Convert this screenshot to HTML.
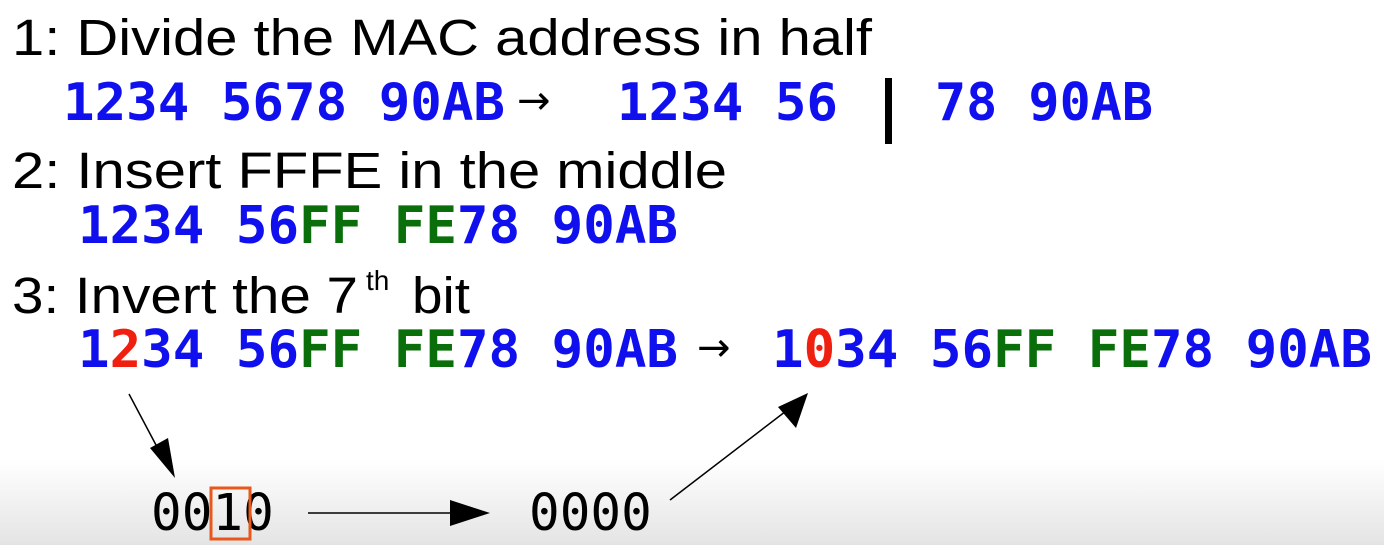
<!DOCTYPE html>
<html><head><style>
html,body{margin:0;padding:0;background:#fff;}
svg{display:block}
.h{font-family:"Liberation Sans",sans-serif;font-size:51px;fill:#000}
.m{font-family:"DejaVu Sans Mono",monospace;font-weight:bold;font-size:52px;fill:#1010ee}
.g{fill:#0a6e0a}
.r{fill:#f02010}
.a{font-family:"DejaVu Sans",sans-serif;font-size:40px;fill:#000}
.b{font-family:"DejaVu Sans Mono",monospace;font-size:51px;fill:#000}
</style></head><body>
<svg width="1384" height="545" xmlns="http://www.w3.org/2000/svg">
<defs><linearGradient id="bg" x1="0" y1="0" x2="0" y2="1">
<stop offset="0" stop-color="#fff"/><stop offset="1" stop-color="#e4e4e4"/></linearGradient></defs>
<rect x="0" y="460" width="1384" height="85" fill="url(#bg)"/>
<text class="h" x="12" y="55" textLength="860" lengthAdjust="spacingAndGlyphs">1: Divide the MAC address in half</text>
<text class="m" x="63" y="120" textLength="442" lengthAdjust="spacingAndGlyphs">1234 5678 90AB</text>
<text class="a" x="517" y="114">→</text>
<text class="m" x="617" y="120" textLength="221" lengthAdjust="spacingAndGlyphs">1234 56</text>
<rect x="885" y="78" width="7" height="66" fill="#000"/>
<text class="m" x="935" y="120" textLength="218" lengthAdjust="spacingAndGlyphs">78 90AB</text>
<text class="h" x="12" y="188" textLength="715" lengthAdjust="spacingAndGlyphs">2: Insert FFFE in the middle</text>
<text class="m" x="78" y="243" textLength="600" lengthAdjust="spacingAndGlyphs">1234 56<tspan class="g">FF FE</tspan>78 90AB</text>
<text class="h" x="12" y="313" textLength="346" lengthAdjust="spacingAndGlyphs">3: Invert the 7</text>
<text class="h" x="366" y="290" style="font-size:28px">th</text>
<text class="h" x="412" y="313" textLength="58" lengthAdjust="spacingAndGlyphs">bit</text>
<text class="m" x="78" y="367" textLength="600" lengthAdjust="spacingAndGlyphs">1<tspan class="r">2</tspan>34 56<tspan class="g">FF FE</tspan>78 90AB</text>
<text class="a" x="697" y="361">→</text>
<text class="m" x="772" y="367" textLength="600" lengthAdjust="spacingAndGlyphs">1<tspan class="r">0</tspan>34 56<tspan class="g">FF FE</tspan>78 90AB</text>
<line x1="129" y1="394" x2="165" y2="462" stroke="#000" stroke-width="1.5"/>
<polygon points="175,478 150,448 168,438" fill="#000"/>
<text class="b" x="151" y="530">0010</text>
<rect x="211" y="488" width="39" height="51" fill="none" stroke="#e8581c" stroke-width="3"/>
<line x1="308" y1="513" x2="455" y2="513" stroke="#000" stroke-width="1.5"/>
<polygon points="490,513 450,500 450,526" fill="#000"/>
<text class="b" x="529" y="530">0000</text>
<line x1="670" y1="500" x2="790" y2="408" stroke="#000" stroke-width="1.5"/>
<polygon points="808,393 778,407 796,428" fill="#000"/>
</svg>
</body></html>
